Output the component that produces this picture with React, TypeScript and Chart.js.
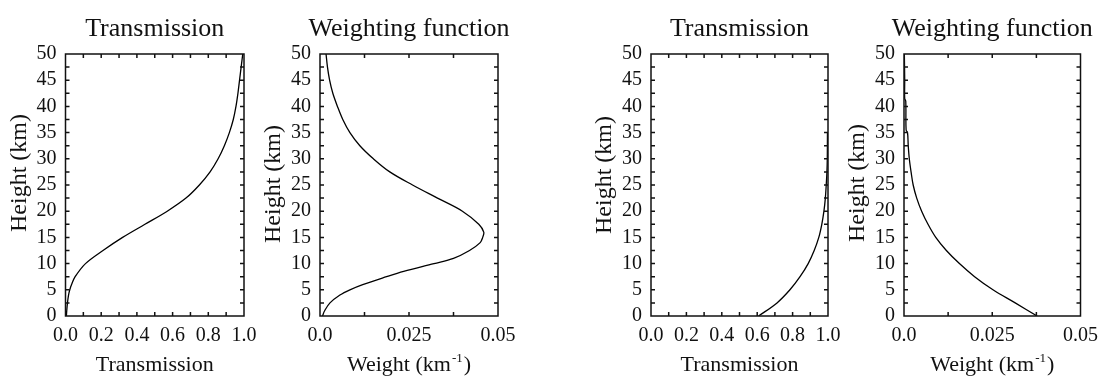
import React, { useEffect, useRef } from "react";
import { Chart, registerables } from "chart.js";

Chart.register(...registerables);

// ---------- data ----------
const heightTickValues = [0, 5, 10, 15, 20, 25, 30, 35, 40, 45, 50];
const heightTickLabels = ["0", "5", "10", "15", "20", "25", "30", "35", "40", "45", "50"];
const transTickValues = [0, 0.2, 0.4, 0.6, 0.8, 1.0];
const transTickLabels = ["0.0", "0.2", "0.4", "0.6", "0.8", "1.0"];
const weightTickValues = [0, 0.025, 0.05];
const weightTickLabels = ["0.0", "0.025", "0.05"];

// Panel 1: transmission (left case)
const heightsA = [0, 1, 2.5, 4, 5, 6, 7.5, 10, 12.5, 15, 17.5, 20, 22.5, 25, 27.5, 30, 32.5, 35, 37.5, 40, 42.5, 45, 47.5, 50];
const transmissionA = [0.005, 0.007, 0.011, 0.017, 0.024, 0.034, 0.054, 0.112, 0.21, 0.32, 0.445, 0.57, 0.675, 0.75, 0.81, 0.855, 0.89, 0.918, 0.94, 0.955, 0.966, 0.975, 0.984, 0.993];

// Panel 2: weighting function (left case)
const heightsB = [0, 1, 2.5, 4, 5, 6, 7.5, 8.5, 10, 11, 12.5, 14, 15, 16, 17.5, 20, 22.5, 25, 27.5, 30, 32.5, 35, 37.5, 40, 42.5, 45, 47.5, 50];
const weightB = [0.0007, 0.0013, 0.0028, 0.0056, 0.0084, 0.012, 0.0187, 0.0235, 0.032, 0.0375, 0.042, 0.045, 0.0457, 0.046, 0.0446, 0.04, 0.033, 0.026, 0.0196, 0.015, 0.0112, 0.0084, 0.0064, 0.0049, 0.0036, 0.0027, 0.0021, 0.0017];

// Panel 3: transmission (right case)
const heightsC = [0, 2.5, 5, 7.5, 10, 12.5, 15, 17.5, 20, 22.5, 25, 27.5, 30, 35];
const transmissionC = [0.608, 0.712, 0.785, 0.842, 0.888, 0.922, 0.948, 0.965, 0.977, 0.985, 0.99, 0.994, 0.996, 0.997];

// Panel 4: weighting function (right case)
const heightsD = [0, 2.5, 5, 7.5, 10, 12.5, 15, 17.5, 20, 22.5, 25, 27.5, 30, 32.5, 35, 35.5, 41, 41.5, 45, 50];
const weightD = [0.0377, 0.0315, 0.0252, 0.02, 0.0157, 0.012, 0.009, 0.0068, 0.005, 0.0036, 0.0026, 0.002, 0.0015, 0.0012, 0.001, 0.0006, 0.0005, 0.0002, 0.0002, 0.0001];

// ---------- layout / style ----------
const FONT = '"Liberation Serif", "Times New Roman", serif';
const INK = "#111";
const CANVAS_H = 379;
const PLOT_TOP = 54;
const PLOT_BOTTOM = 316;

type PanelDef = {
  canvasLeft: number;
  canvasWidth: number;
  plotLeft: number;
  plotRight: number;
  title: string;
  kind: "trans" | "weight";
  xMax: number;
  xMinorCount: number;
  xTickValues: number[];
  xTickLabels: string[];
  yLabelCenter: number;
  heights: number[];
  values: number[];
};

const PANELS: PanelDef[] = [
  { canvasLeft: 0, canvasWidth: 290, plotLeft: 65.5, plotRight: 244, title: "Transmission", kind: "trans", xMax: 1, xMinorCount: 10, xTickValues: transTickValues, xTickLabels: transTickLabels, yLabelCenter: 173, heights: heightsA, values: transmissionA },
  { canvasLeft: 255, canvasWidth: 305, plotLeft: 320, plotRight: 498, title: "Weighting function", kind: "weight", xMax: 0.05, xMinorCount: 4, xTickValues: weightTickValues, xTickLabels: weightTickLabels, yLabelCenter: 184, heights: heightsB, values: weightB },
  { canvasLeft: 560, canvasWidth: 320, plotLeft: 651, plotRight: 828, title: "Transmission", kind: "trans", xMax: 1, xMinorCount: 10, xTickValues: transTickValues, xTickLabels: transTickLabels, yLabelCenter: 175, heights: heightsC, values: transmissionC },
  { canvasLeft: 835, canvasWidth: 271, plotLeft: 904, plotRight: 1082, title: "Weighting function", kind: "weight", xMax: 0.05, xMinorCount: 4, xTickValues: weightTickValues, xTickLabels: weightTickLabels, yLabelCenter: 183, heights: heightsD, values: weightD },
];

function makeDecor(p: PanelDef) {
  return {
    id: "decor",
    afterDraw(chart: any) {
      const ctx = chart.ctx as CanvasRenderingContext2D;
      const ca = chart.chartArea;
      const xs = chart.scales.x;
      const ys = chart.scales.y;
      ctx.save();
      ctx.strokeStyle = INK;
      ctx.fillStyle = INK;
      ctx.lineWidth = 1.5;
      ctx.strokeRect(ca.left, ca.top, ca.right - ca.left, ca.bottom - ca.top);
      // inward ticks
      const tl = 4;
      ctx.beginPath();
      for (let i = 1; i < p.xMinorCount; i++) {
        const px = xs.getPixelForValue((p.xMax * i) / p.xMinorCount);
        ctx.moveTo(px, ca.bottom);
        ctx.lineTo(px, ca.bottom - tl);
        ctx.moveTo(px, ca.top);
        ctx.lineTo(px, ca.top + tl);
      }
      for (let i = 1; i < 20; i++) {
        const py = ys.getPixelForValue(i * 2.5);
        ctx.moveTo(ca.left, py);
        ctx.lineTo(ca.left + tl, py);
        ctx.moveTo(ca.right, py);
        ctx.lineTo(ca.right - tl, py);
      }
      ctx.stroke();

      const cx = (ca.left + ca.right) / 2;
      // title
      ctx.textAlign = "center";
      ctx.textBaseline = "alphabetic";
      ctx.font = `26px ${FONT}`;
      ctx.fillText(p.title, cx, 36);

      // x label
      if (p.kind === "trans") {
        ctx.font = `22px ${FONT}`;
        ctx.fillText("Transmission", cx, 371);
      } else {
        const main = "Weight (km";
        const sup = "-1";
        const close = ")";
        ctx.font = `22px ${FONT}`;
        const w1 = ctx.measureText(main).width;
        const w3 = ctx.measureText(close).width;
        ctx.font = `13px ${FONT}`;
        const w2 = ctx.measureText(sup).width;
        const total = w1 + w2 + 2 + w3;
        let x = cx - total / 2;
        ctx.textAlign = "left";
        ctx.font = `22px ${FONT}`;
        ctx.fillText(main, x, 371);
        x += w1 + 1;
        ctx.font = `13px ${FONT}`;
        ctx.fillText(sup, x, 362);
        x += w2 + 1;
        ctx.font = `22px ${FONT}`;
        ctx.fillText(close, x, 371);
      }

      // y label
      ctx.save();
      ctx.translate(ca.left - 40, p.yLabelCenter);
      ctx.rotate(-Math.PI / 2);
      ctx.textAlign = "center";
      ctx.textBaseline = "alphabetic";
      ctx.font = `24px ${FONT}`;
      ctx.fillText("Height (km)", 0, 0);
      ctx.restore();
      ctx.restore();
    },
  };
}

function buildChart(canvas: HTMLCanvasElement, p: PanelDef) {
  const yWidth = p.plotLeft - p.canvasLeft;
  const rightPad = p.canvasLeft + p.canvasWidth - p.plotRight;
  return new Chart(canvas, {
    type: "scatter",
    data: {
      datasets: [
        {
          data: p.heights.map((h, i) => ({ x: p.values[i], y: h })),
          showLine: true,
          borderColor: "#000",
          borderWidth: 1.3,
          pointRadius: 0,
          tension: 0.35,
          fill: false,
        },
      ],
    },
    options: {
      responsive: false,
      animation: false,
      events: [],
      layout: { padding: { top: PLOT_TOP, left: 0, right: rightPad, bottom: 0 } },
      plugins: { legend: { display: false }, tooltip: { enabled: false }, title: { display: false } },
      scales: {
        x: {
          type: "linear",
          position: "bottom",
          min: 0,
          max: p.xMax,
          grid: { display: false, drawTicks: false },
          border: { display: false },
          afterBuildTicks: (scale: any) => {
            scale.ticks = p.xTickValues.map((v) => ({ value: v }));
          },
          afterFit: (scale: any) => {
            scale.height = CANVAS_H - PLOT_BOTTOM;
          },
          ticks: {
            autoSkip: false,
            maxRotation: 0,
            minRotation: 0,
            padding: 8,
            color: INK,
            font: { family: FONT, size: 20 },
            callback: (_v: any, i: number) => p.xTickLabels[i],
          },
        },
        y: {
          type: "linear",
          position: "left",
          min: 0,
          max: 50,
          grid: { display: false, drawTicks: false },
          border: { display: false },
          afterBuildTicks: (scale: any) => {
            scale.ticks = heightTickValues.map((v) => ({ value: v }));
          },
          afterFit: (scale: any) => {
            scale.width = yWidth;
          },
          ticks: {
            autoSkip: false,
            padding: 9,
            color: INK,
            font: { family: FONT, size: 20 },
            callback: (_v: any, i: number) => heightTickLabels[i],
          },
        },
      },
    } as any,
    plugins: [makeDecor(p)],
  });
}

export default function App() {
  const refs = useRef<(HTMLCanvasElement | null)[]>([]);
  useEffect(() => {
    const charts = PANELS.map((p, i) => buildChart(refs.current[i] as HTMLCanvasElement, p));
    return () => charts.forEach((c) => c.destroy());
  }, []);
  return (
    <div style={{ position: "absolute", left: 0, top: 0, width: 1106, height: CANVAS_H, background: "#fff" }}>
      {PANELS.map((p, i) => (
        <canvas
          key={i}
          ref={(el) => {
            refs.current[i] = el;
          }}
          width={p.canvasWidth}
          height={CANVAS_H}
          style={{ position: "absolute", left: p.canvasLeft, top: 0, width: p.canvasWidth, height: CANVAS_H }}
        />
      ))}
    </div>
  );
}
